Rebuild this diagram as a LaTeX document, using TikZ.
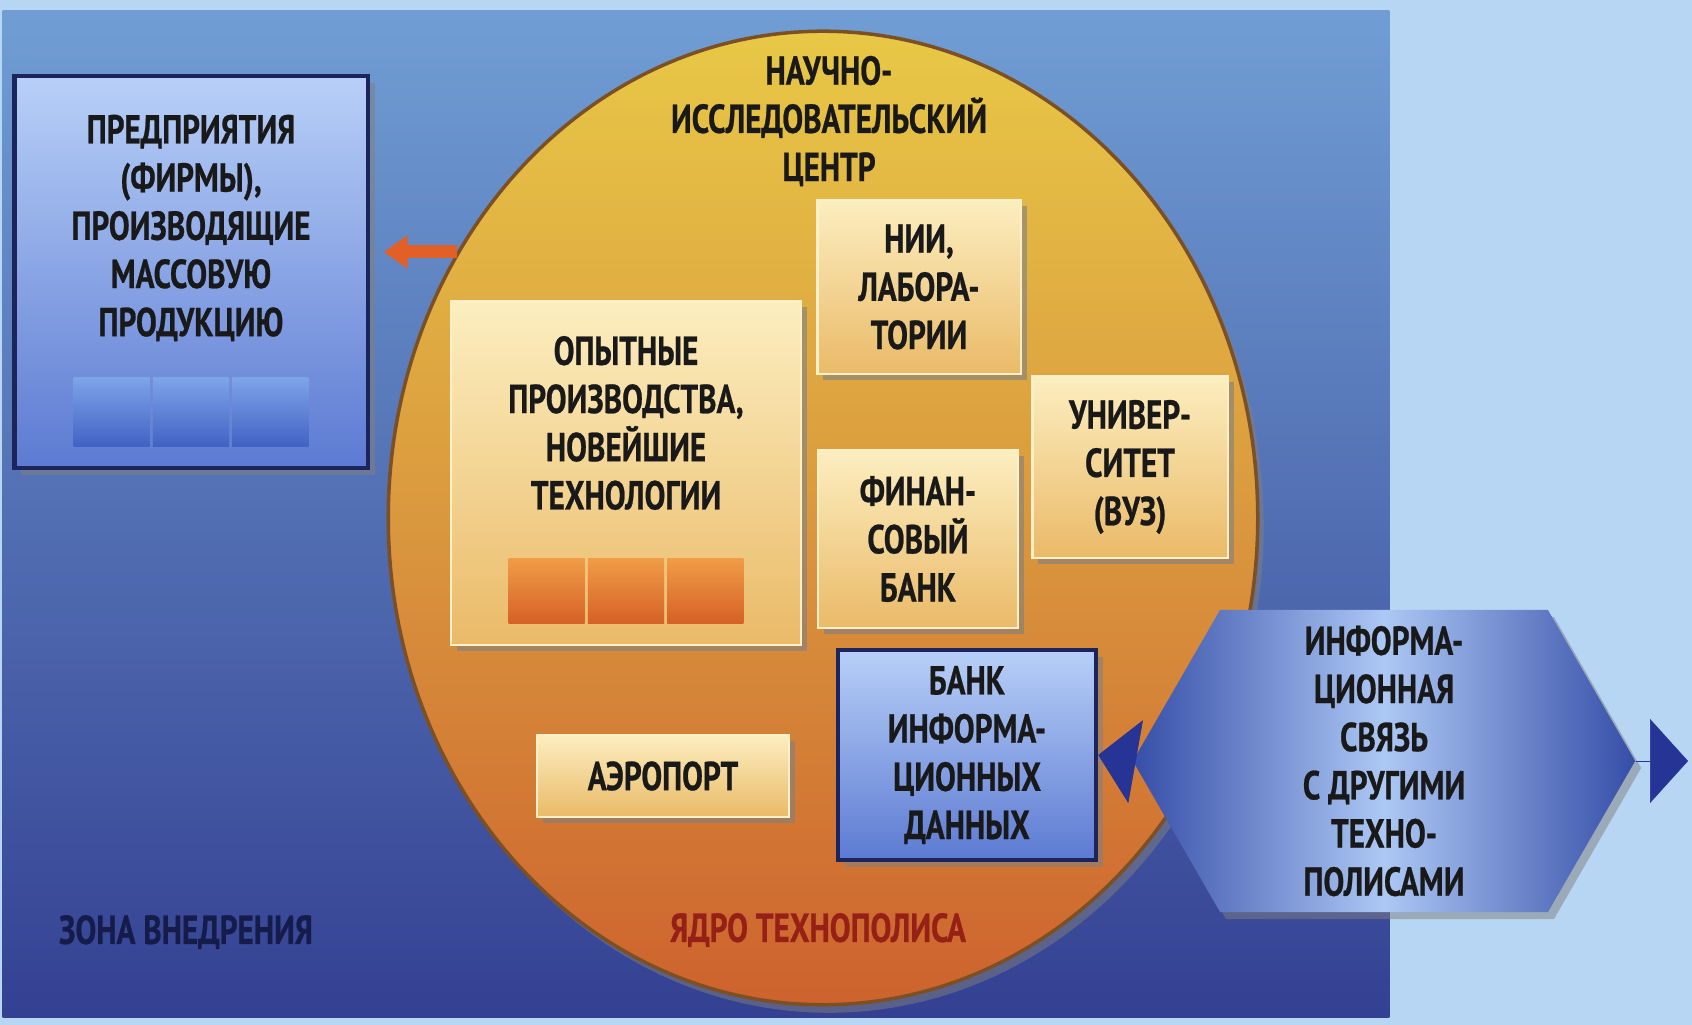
\documentclass[tikz,border=0pt]{standalone}
\usepackage{fontspec}
\newfontfamily\condfont[FakeStretch=0.77,BoldFeatures={FakeBold=0.6}]{PT Sans}
\usetikzlibrary{positioning,shapes.geometric,shapes.symbols,shadows,arrows.meta}

\definecolor{sky}{RGB}{183,214,244}
\definecolor{zonetop}{RGB}{112,158,212}
\definecolor{zonebot}{RGB}{52,64,146}
\definecolor{coretop}{RGB}{232,200,70}
\definecolor{coremid}{RGB}{218,152,62}
\definecolor{corebot}{RGB}{205,98,46}
\definecolor{coreedge}{RGB}{125,80,35}
\definecolor{creamtop}{RGB}{252,238,192}
\definecolor{creambot}{RGB}{234,186,104}
\definecolor{creamedge}{RGB}{255,240,200}
\definecolor{bluetop}{RGB}{184,208,248}
\definecolor{bluebot}{RGB}{92,122,210}
\definecolor{navy}{RGB}{28,36,92}
\definecolor{celltop}{RGB}{240,156,70}
\definecolor{cellbot}{RGB}{214,96,38}
\definecolor{bcelltop}{RGB}{126,164,232}
\definecolor{bcellbot}{RGB}{66,98,196}
\definecolor{hexdark}{RGB}{54,78,168}
\definecolor{hexlight}{RGB}{172,200,244}
\definecolor{tipblue}{RGB}{38,52,150}
\definecolor{arroworange}{RGB}{226,96,40}
\definecolor{corered}{RGB}{150,32,22}
\definecolor{zonenavy}{RGB}{22,28,74}

\begin{document}
\begin{tikzpicture}[x=0.01cm,y=-0.01cm,
  every node/.style={font={\condfont\bfseries\fontsize{11.5}{13.7}\selectfont},
    align=center,text=black!90}]
	\tikzstyle{box_blue}
	  =[draw=navy, line width=1.2pt, rectangle, top color=bluetop, bottom color=bluebot,
	    drop shadow={shadow xshift=0.07cm, shadow yshift=-0.07cm, opacity=0.55}, inner sep=0pt]
	\tikzstyle{box_cream}
	  =[draw=creamedge, line width=0.6pt, rectangle, top color=creamtop, bottom color=creambot,
	    drop shadow={shadow xshift=0.06cm, shadow yshift=-0.06cm, opacity=0.6}, inner sep=0pt]
	\tikzstyle{cell_orange}
	  =[rectangle, top color=celltop, bottom color=cellbot, minimum width=0.76cm,
	    minimum height=0.65cm, inner sep=0pt]
	\tikzstyle{cell_blue}
	  =[rectangle, top color=bcelltop, bottom color=bcellbot, minimum width=0.76cm,
	    minimum height=0.69cm, inner sep=0pt]
	\tikzstyle{tip_blue}
	  =[-{Triangle[length=0.38cm,width=0.84cm]}, draw=tipblue, line width=0.2pt]
	\tikzstyle{arrow_orange}
	  =[-{Triangle[length=0.24cm,width=0.32cm]}, draw=arroworange, line width=0.13cm]

	\useasboundingbox (0,0) rectangle (1692,1025);
	\fill[sky] (0,0) rectangle (1692,1025);

	\node[rectangle, top color=zonetop, bottom color=zonebot, minimum width=13.86cm,
	  minimum height=10.06cm, inner sep=0pt] (zone)
	  at (696,514) {};

	\node[ellipse, minimum width=8.69cm, minimum height=9.73cm, top color=coretop,
	  bottom color=corebot, middle color=coremid, draw=coreedge, line width=1pt,
	  drop shadow={shadow xshift=0.06cm, shadow yshift=-0.08cm, opacity=0.5}] (core)
	  at (823,518) {};
	\node[] (core_title)
	  at (829,121) {НАУЧНО-\\ИССЛЕДОВАТЕЛЬСКИЙ\\ЦЕНТР};

	\node[box_blue,minimum width=3.53cm,minimum height=3.92cm] (firms)
	  at (191,272) {};
	\node[] (firms_text)
	  at (191,228) {ПРЕДПРИЯТИЯ\\(ФИРМЫ),\\ПРОИЗВОДЯЩИЕ\\МАССОВУЮ\\ПРОДУКЦИЮ};
	\node[cell_blue] (firms_cell2)
	  [above=0.23cm of firms.south] {};
	\node[cell_blue] (firms_cell1)
	  [left=0.02cm of firms_cell2] {};
	\node[cell_blue] (firms_cell3)
	  [right=0.02cm of firms_cell2] {};

	\node[box_cream,minimum width=3.50cm,minimum height=3.43cm] (pilot)
	  at (626,473) {};
	\node[] (pilot_text)
	  at (626,423) {ОПЫТНЫЕ\\ПРОИЗВОДСТВА,\\НОВЕЙШИЕ\\ТЕХНОЛОГИИ};
	\node[cell_orange] (pilot_cell2)
	  [above=0.21cm of pilot.south] {};
	\node[cell_orange] (pilot_cell1)
	  [left=0.02cm of pilot_cell2] {};
	\node[cell_orange] (pilot_cell3)
	  [right=0.02cm of pilot_cell2] {};

	\node[box_cream,minimum width=2.03cm,minimum height=1.74cm] (nii)
	  at (919,287) {НИИ,\\ЛАБОРА-\\ТОРИИ};
	\node[box_cream,minimum width=1.95cm,minimum height=1.82cm] (univ)
	  at (1130,467) {УНИВЕР-\\СИТЕТ\\(ВУЗ)};
	\node[box_cream,minimum width=2.00cm,minimum height=1.78cm] (fin_bank)
	  at (918,539) {ФИНАН-\\СОВЫЙ\\БАНК};
	\node[box_cream,minimum width=2.52cm,minimum height=0.82cm] (airport)
	  at (663,776) {АЭРОПОРТ};
	\node[box_blue,minimum width=2.58cm,minimum height=2.10cm] (bank_info)
	  at (967,755) {БАНК\\ИНФОРМА-\\ЦИОННЫХ\\ДАННЫХ};

	\node[signal, signal to=west and east, signal pointer angle=120, inner sep=0pt,
	  minimum width=5.02cm, minimum height=3.02cm, left color=hexdark,
	  right color=hexdark, middle color=hexlight,
	  drop shadow={shadow xshift=0.06cm, shadow yshift=-0.07cm, opacity=0.5}] (link)
	  at (1384,761) {ИНФОРМА-\\ЦИОННАЯ\\СВЯЗЬ\\С ДРУГИМИ\\ТЕХНО-\\ПОЛИСАМИ};
	\coordinate (right_end) at (1688,761);

	\node[text=zonenavy] (zone_label)
	  at (186,932) {ЗОНА ВНЕДРЕНИЯ};
	\node[text=corered] (core_label)
	  at (818,930) {ЯДРО ТЕХНОПОЛИСА};

	\draw[tip_blue] (link.west)--(bank_info.east);
	\draw[tip_blue] (link.east)--(right_end);
	\draw[arrow_orange,shorten >=0.14cm] (core.144)--(firms.east |- core.144);
\end{tikzpicture}
\end{document}
